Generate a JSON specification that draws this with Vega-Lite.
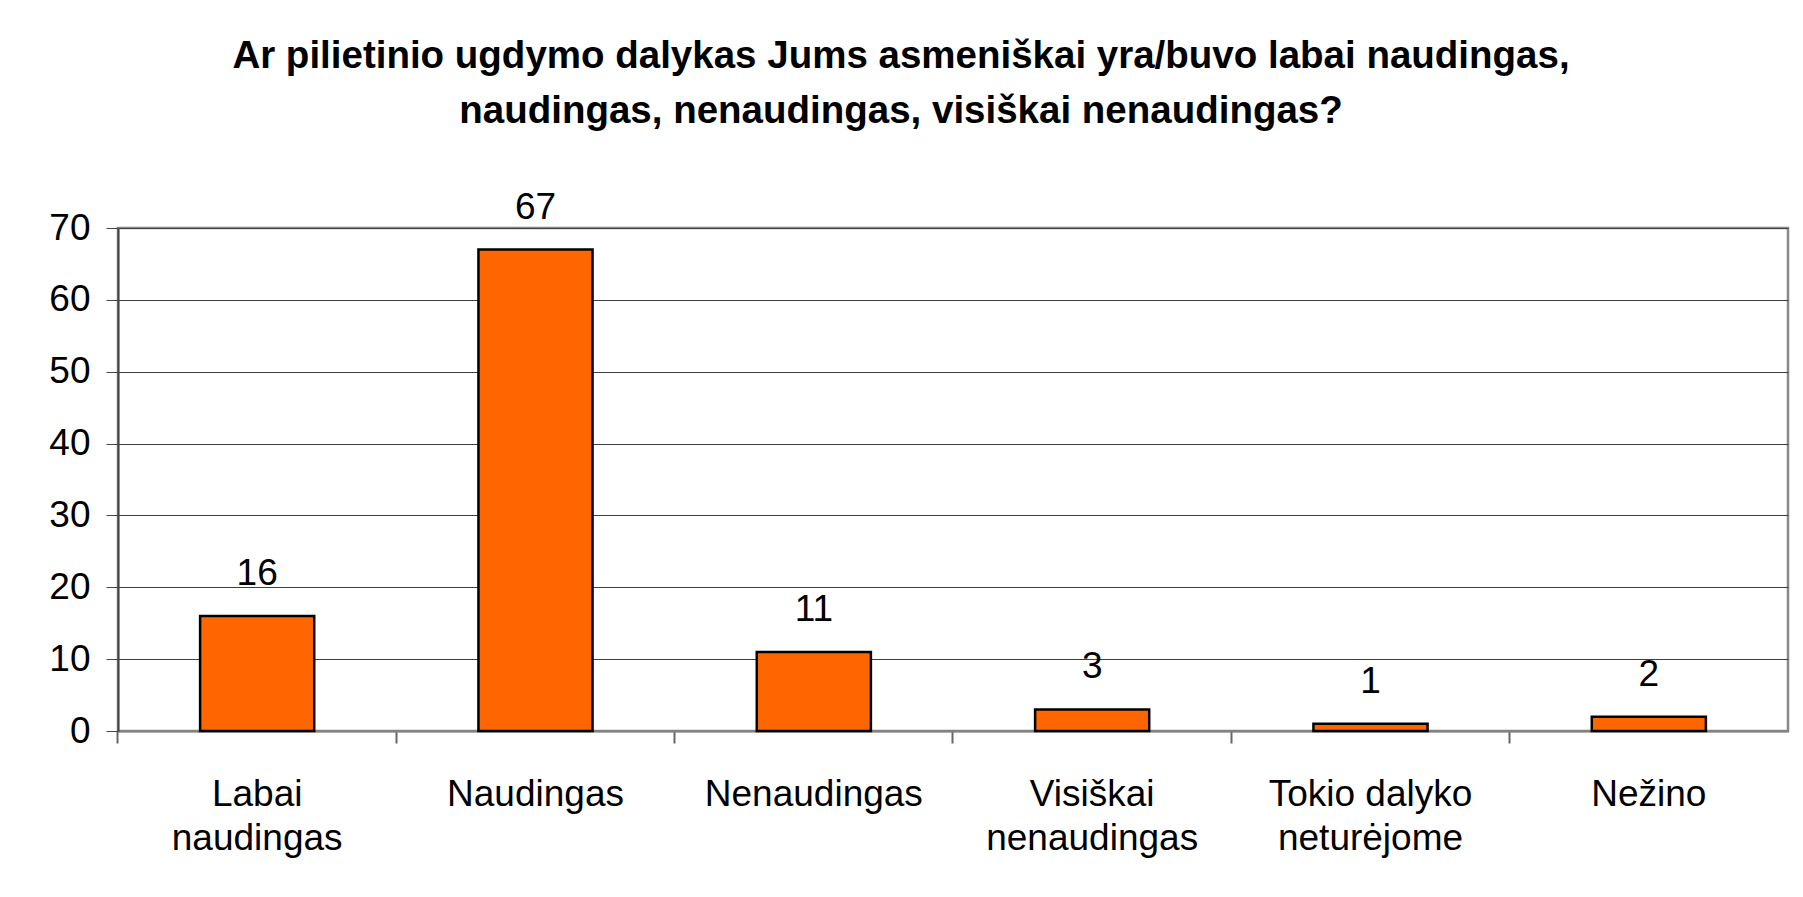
{
  "$schema": "https://vega.github.io/schema/vega-lite/v6.json",
  "width": 1670,
  "height": 503,
  "autosize": "none",
  "padding": {"left": 118, "top": 228, "right": 15, "bottom": 166},
  "background": "white",
  "title": {
    "text": ["Ar pilietinio ugdymo dalykas Jums asmeniškai yra/buvo labai naudingas,", "naudingas, nenaudingas, visiškai nenaudingas?"],
    "font": "Liberation Sans",
    "fontSize": 38.5,
    "fontWeight": "bold",
    "color": "black",
    "lineHeight": 55,
    "anchor": "middle",
    "frame": "group",
    "dx": -52,
    "offset": 57
  },
  "data": {
    "values": [
      {"atsakymas": "Labai naudingas", "procentai": 16},
      {"atsakymas": "Naudingas", "procentai": 67},
      {"atsakymas": "Nenaudingas", "procentai": 11},
      {"atsakymas": "Visiškai nenaudingas", "procentai": 3},
      {"atsakymas": "Tokio dalyko neturėjome", "procentai": 1},
      {"atsakymas": "Nežino", "procentai": 2}
    ]
  },
  "encoding": {
    "x": {
      "field": "atsakymas",
      "type": "nominal",
      "sort": null,
      "title": null,
      "scale": {"paddingInner": 0.59, "paddingOuter": 0.295},
      "axis": {
        "labelAngle": 0,
        "labelFont": "Liberation Sans",
        "labelFontSize": 37,
        "labelColor": "black",
        "labelLineHeight": 44,
        "labelPadding": 33,
        "labelLimit": 0,
        "labelExpr": "datum.label == 'Labai naudingas' ? ['Labai', 'naudingas'] : datum.label == 'Visiškai nenaudingas' ? ['Visiškai', 'nenaudingas'] : datum.label == 'Tokio dalyko neturėjome' ? ['Tokio dalyko', 'neturėjome'] : datum.label",
        "bandPosition": -0.72,
        "ticks": true,
        "tickSize": 12,
        "tickColor": "#666666",
        "tickWidth": 2,
        "domainColor": "#808080",
        "domainWidth": 2,
        "grid": false
      }
    },
    "y": {
      "field": "procentai",
      "type": "quantitative",
      "title": null,
      "scale": {"domain": [0, 70], "nice": false},
      "axis": {
        "values": [0, 10, 20, 30, 40, 50, 60, 70],
        "labelFont": "Liberation Sans",
        "labelFontSize": 37,
        "labelColor": "black",
        "labelPadding": 16,
        "tickSize": 12,
        "tickColor": "#444444",
        "domainColor": "#444444",
        "domainWidth": 2,
        "grid": true,
        "gridColor": "#404040",
        "gridWidth": 1.2
      }
    }
  },
  "layer": [
    {
      "mark": {"type": "bar", "color": "#FF6600", "stroke": "black", "strokeWidth": 2.5}
    },
    {
      "mark": {"type": "text", "font": "Liberation Sans", "fontSize": 37, "color": "black", "baseline": "alphabetic", "dy": -31},
      "encoding": {"text": {"field": "procentai", "type": "quantitative"}}
    }
  ],
  "config": {
    "view": {"stroke": "#888888", "strokeWidth": 2.5}
  }
}
